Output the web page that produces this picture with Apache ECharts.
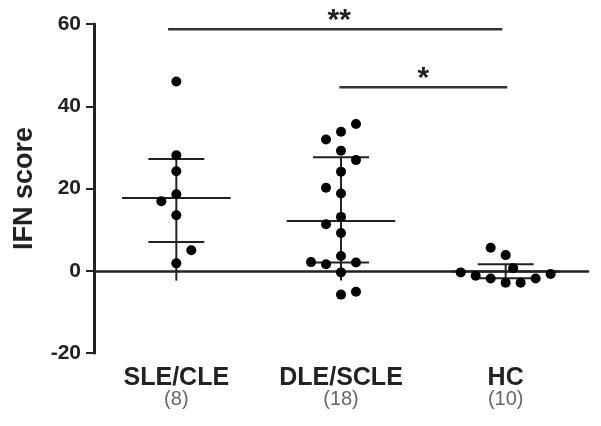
<!DOCTYPE html>
<html>
<head>
<meta charset="utf-8">
<script src="https://cdn.jsdelivr.net/npm/echarts@6/dist/echarts.min.js"></script>
<style>
html, body { margin: 0; padding: 0; background: #fff; }
#chart { width: 601px; height: 426px; }
</style>
</head>
<body>
<div id="chart"></div>
<script>
// groups and sample sizes
const groups = ['SLE/CLE', 'DLE/SCLE', 'HC'];
const counts = [8, 18, 10];
const yTicks = [-20, 0, 20, 40, 60];

// IFN scores per group
const sleValues = [46, 28.1, 24.2, 18.6, 16.9, 13.5, 5.0, 1.8];
const dleValues = [35.7, 33.8, 31.9, 29.2, 26.9, 24.1, 20.2, 18.8, 13.1, 11.3, 9.2, 3.6, 2.1, 1.6, 2.0, -0.4, -5.8, -5.1];
const hcValues = [5.6, 3.8, 0.6, -0.4, -1.2, -1.9, -2.9, -2.9, -1.9, -0.8];
// dot column (jitter slot) of each value
const sleCols = [0, 0, 0, 0, -1, 0, 1, 0];
const dleCols = [1, 0, -1, 0, 1, 0, -1, 0, 0, -1, 0, 0, -2, -1, 1, 0, 0, 1];
const hcCols = [-1, 0, 0.5, -3, -2, -1, 0, 1, 2, 3];

// mean and SD bars
const means = [17.7, 12.1, -0.2];
const sdHigh = [27.2, 27.6, 1.6];
const sdLow = [7.0, 2.0, -1.8];
const stemLow = [-2.4, -2.4, -1.8];

// significance brackets (x in axis units, 0..3)
const sigStart = [0.45, 1.49];
const sigEnd = [2.48, 2.51];
const sigY = [58.7, 44.6];
const sigText = ['**', '*'];

const colW = 0.091;
const valueSets = [sleValues, dleValues, hcValues];
const colSets = [sleCols, dleCols, hcCols];

const dotSeries = valueSets.map((vals, g) => ({
  type: 'scatter',
  xAxisIndex: 0,
  symbolSize: 10,
  itemStyle: { color: '#000', opacity: 1 },
  z: 3,
  data: vals.map((v, i) => [g + 0.5 + colSets[g][i] * colW, v])
}));

const statSeries = {
  type: 'custom',
  xAxisIndex: 0,
  z: 2,
  data: means.map((m, g) => [g + 0.5, m]),
  renderItem: (params, api) => {
    const g = params.dataIndex;
    const cx = g + 0.5;
    const st = { stroke: '#222', lineWidth: 2 };
    const seg = (x1, y1, x2, y2) => {
      const a = api.coord([x1, y1]);
      const b = api.coord([x2, y2]);
      return { type: 'line', shape: { x1: a[0], y1: a[1], x2: b[0], y2: b[1] }, style: st };
    };
    return {
      type: 'group',
      children: [
        seg(cx - 0.33, means[g], cx + 0.33, means[g]),
        seg(cx - 0.17, sdHigh[g], cx + 0.17, sdHigh[g]),
        seg(cx - 0.17, sdLow[g], cx + 0.17, sdLow[g]),
        seg(cx, sdHigh[g], cx, stemLow[g])
      ]
    };
  }
};

const sigSeries = {
  type: 'custom',
  xAxisIndex: 0,
  clip: false,
  data: sigY.map((y, i) => [i, y]),
  renderItem: (params, api) => {
    const i = params.dataIndex;
    const a = api.coord([sigStart[i], sigY[i]]);
    const b = api.coord([sigEnd[i], sigY[i]]);
    const tx = i === 0 ? (a[0] + b[0]) / 2 + 4 : (a[0] + b[0]) / 2;
    return {
      type: 'group',
      children: [
        { type: 'line', shape: { x1: a[0], y1: a[1], x2: b[0], y2: b[1] }, style: { stroke: '#333', lineWidth: 2.5 } },
        { type: 'text', x: tx, y: a[1] + 6, style: { text: sigText[i], fill: '#222', font: 'bold 30px "Liberation Sans", Arial', align: 'center', verticalAlign: 'bottom' } }
      ]
    };
  }
};

const chart = echarts.init(document.getElementById('chart'));
chart.setOption({
  animation: false,
  grid: { left: 94, right: 13, top: 24, bottom: 73, outerBoundsMode: 'none' },
  xAxis: [
    {
      type: 'value',
      min: 0,
      max: 3,
      position: 'bottom',
      axisLine: { show: true, onZero: true, lineStyle: { color: '#222', width: 2.5 } },
      axisTick: { show: false },
      axisLabel: { show: false },
      splitLine: { show: false }
    },
    {
      type: 'category',
      data: groups,
      position: 'bottom',
      axisLine: { show: false, onZero: false },
      axisTick: { show: false },
      axisLabel: {
        margin: 14,
        interval: 0,
        formatter: (v, i) => '{b|' + v + '}\n{n|(' + counts[i] + ')}',
        rich: {
          b: { fontFamily: 'Liberation Sans', fontWeight: 'bold', fontSize: 25, color: '#222', lineHeight: 22 },
          n: { fontFamily: 'Liberation Sans', fontSize: 20, color: '#666', lineHeight: 20 }
        }
      }
    }
  ],
  yAxis: {
    type: 'value',
    min: -20,
    max: 60,
    interval: 20,
    name: 'IFN score',
    nameLocation: 'middle',
    nameRotate: 90,
    nameGap: 56,
    nameTextStyle: { fontFamily: 'Liberation Sans', fontWeight: 'bold', fontSize: 27, color: '#222' },
    axisLine: { show: true, lineStyle: { color: '#222', width: 3 } },
    axisTick: { show: true, length: 8, lineStyle: { color: '#222', width: 2 } },
    axisLabel: {
      margin: 13,
      fontFamily: 'Liberation Sans',
      fontWeight: 'bold',
      fontSize: 21,
      color: '#222',
      formatter: v => (yTicks.includes(v) ? String(v) : '')
    },
    splitLine: { show: false }
  },
  series: [statSeries, sigSeries].concat(dotSeries)
});
</script>
</body>
</html>
